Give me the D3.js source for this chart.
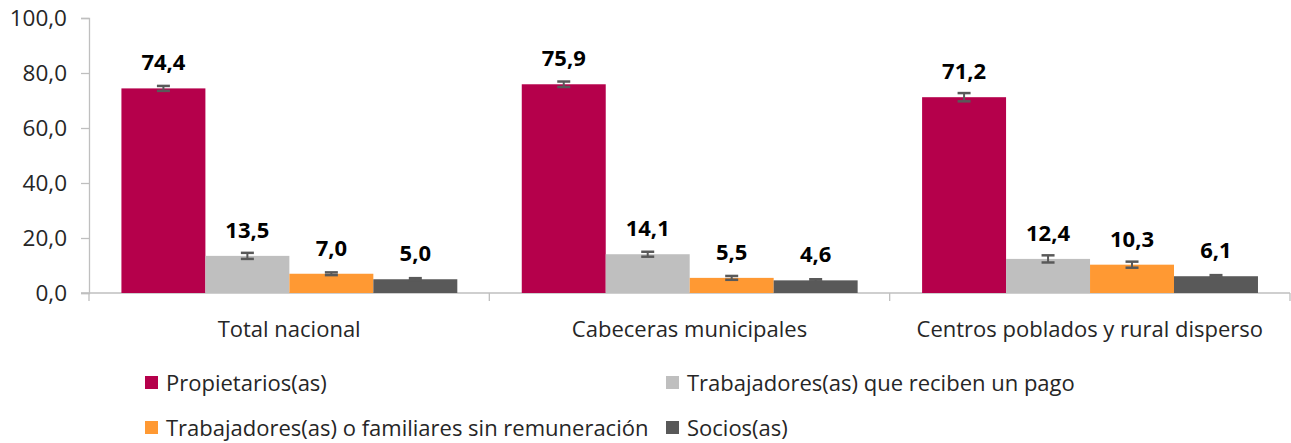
<!DOCTYPE html>
<html>
<head>
<meta charset="utf-8">
<script src="https://cdn.jsdelivr.net/npm/d3@7/dist/d3.min.js"></script>
<style>
  html, body { margin: 0; padding: 0; background: #ffffff; }
  svg { display: block; }
  text { font-family: "Open Sans", "Noto Sans", sans-serif; }
</style>
</head>
<body>
<svg id="chart" width="1291" height="443"></svg>
<script>
const categories = ["Total nacional", "Cabeceras municipales", "Centros poblados y rural disperso"];
const seriesNames = ["Propietarios(as)", "Trabajadores(as) que reciben un pago", "Trabajadores(as) o familiares sin remuneración", "Socios(as)"];
const propietarios = [74.4, 75.9, 71.2];
const trabajadoresPago = [13.5, 14.1, 12.4];
const trabajadoresSinRem = [7.0, 5.5, 10.3];
const socios = [5.0, 4.6, 6.1];
const errPropietarios = [0.9, 1.0, 1.5];
const errTrabajadoresPago = [1.1, 0.9, 1.3];
const errTrabajadoresSinRem = [0.5, 0.7, 1.1];
const errSocios = [0.4, 0.4, 0.4];
const yTicks = [0, 20, 40, 60, 80, 100];
const colors = ["#B5004B", "#BFBFBF", "#FF9933", "#595959"];

const seriesValues = [propietarios, trabajadoresPago, trabajadoresSinRem, socios];
const seriesErrors = [errPropietarios, errTrabajadoresPago, errTrabajadoresSinRem, errSocios];

const svg = d3.select("#chart");
const mLeft = 89, mRight = 1290, mTop = 18, mBottom = 293;

const y = d3.scaleLinear().domain([0, 100]).range([mBottom, mTop]);
const x0 = d3.scaleBand().domain(categories).range([mLeft, mRight]).padding(0);
const bw = x0.bandwidth();
const x1 = d3.scaleBand().domain(seriesNames).range([bw * 0.081, bw * 0.92]).padding(0);

const fmt = v => d3.format(".1f")(v).replace(".", ",");

// Y axis
const yAxis = d3.axisLeft(y).tickValues(yTicks).tickSize(8).tickPadding(14).tickFormat(fmt);
const gy = svg.append("g").attr("transform", `translate(${mLeft},0)`).call(yAxis);
gy.select(".domain").attr("stroke", "#BFBFBF").attr("stroke-width", 1.3);
gy.selectAll(".tick line").attr("stroke", "#BFBFBF").attr("stroke-width", 1.3);
gy.selectAll(".tick text").attr("font-size", 22.5).attr("fill", "#262626")
  .attr("font-family", "'Open Sans', sans-serif").attr("dy", "0.35em");

// X axis line and separators
svg.append("line").attr("x1", mLeft - 8).attr("x2", mRight).attr("y1", mBottom).attr("y2", mBottom)
  .attr("stroke", "#BFBFBF").attr("stroke-width", 1.3);
const seps = [mLeft].concat(categories.map(c => x0(c) + bw));
svg.selectAll(".sep").data(seps).enter().append("line")
  .attr("x1", d => d).attr("x2", d => d).attr("y1", mBottom).attr("y2", mBottom + 8)
  .attr("stroke", "#BFBFBF").attr("stroke-width", 1.3);

// Category labels
svg.selectAll(".cat").data(categories).enter().append("text")
  .attr("x", d => x0(d) + bw / 2).attr("y", 337)
  .attr("text-anchor", "middle").attr("font-size", 22).attr("fill", "#262626")
  .text(d => d);

// Bars
const flat = [];
seriesNames.forEach((s, si) => {
  categories.forEach((c, ci) => {
    flat.push({ s, si, c, v: seriesValues[si][ci], e: seriesErrors[si][ci] });
  });
});

svg.selectAll(".bar").data(flat).enter().append("rect")
  .attr("x", d => x0(d.c) + x1(d.s))
  .attr("y", d => y(d.v))
  .attr("width", x1.bandwidth())
  .attr("height", d => y(0) - y(d.v))
  .attr("fill", d => colors[d.si]);

// Error bars
const eg = svg.selectAll(".err").data(flat).enter().append("g");
eg.append("line")
  .attr("x1", d => x0(d.c) + x1(d.s) + x1.bandwidth() / 2)
  .attr("x2", d => x0(d.c) + x1(d.s) + x1.bandwidth() / 2)
  .attr("y1", d => y(d.v + d.e)).attr("y2", d => y(d.v - d.e))
  .attr("stroke", "#595959").attr("stroke-width", 2);
[1, -1].forEach(sgn => {
  eg.append("line")
    .attr("x1", d => x0(d.c) + x1(d.s) + x1.bandwidth() / 2 - 6.5)
    .attr("x2", d => x0(d.c) + x1(d.s) + x1.bandwidth() / 2 + 6.5)
    .attr("y1", d => y(d.v + sgn * d.e)).attr("y2", d => y(d.v + sgn * d.e))
    .attr("stroke", "#595959").attr("stroke-width", 2.5);
});

// Value labels
svg.selectAll(".val").data(flat).enter().append("text")
  .attr("x", d => x0(d.c) + x1(d.s) + x1.bandwidth() / 2)
  .attr("y", d => y(d.v) - 18)
  .attr("text-anchor", "middle").attr("font-size", 22).attr("font-weight", "bold")
  .attr("fill", "#000000")
  .text(d => fmt(d.v));

// Legend
const legendPos = [
  { x: 145, y: 383 }, { x: 666, y: 383 },
  { x: 145, y: 428 }, { x: 666, y: 428 }
];
const lg = svg.selectAll(".leg").data(seriesNames).enter().append("g")
  .attr("transform", (d, i) => `translate(${legendPos[i].x},${legendPos[i].y})`);
lg.append("rect").attr("x", 0).attr("y", -7).attr("width", 13).attr("height", 13)
  .attr("fill", (d, i) => colors[i]);
lg.append("text").attr("x", 21).attr("y", 0).attr("dy", "0.35em")
  .attr("font-size", 22).attr("fill", "#262626").text(d => d);
</script>
</body>
</html>
